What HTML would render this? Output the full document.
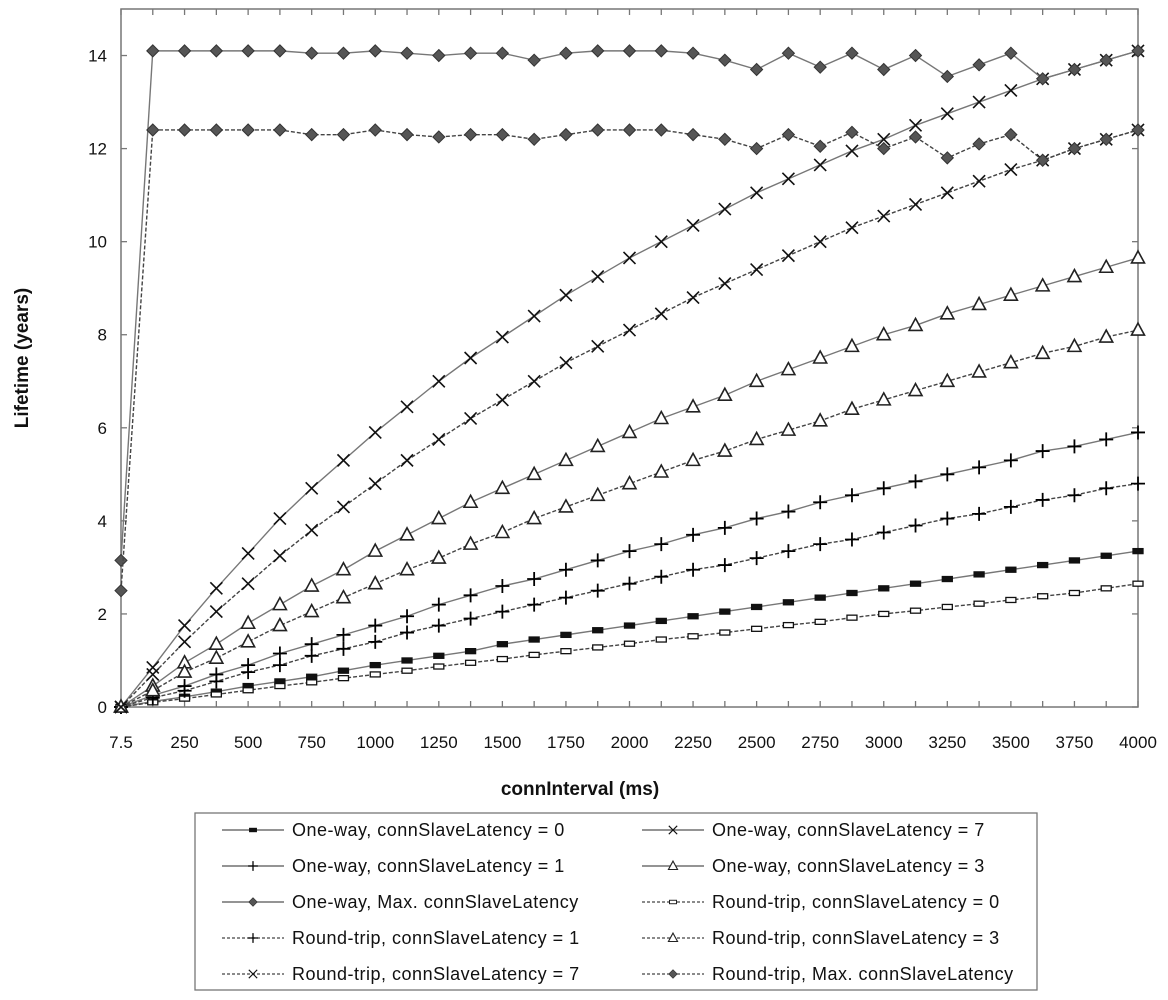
<!DOCTYPE html>
<html><head><meta charset="utf-8">
<style>
body{margin:0;background:#fff;}
svg{display:block;font-family:"Liberation Sans",sans-serif;}
</style></head>
<body>
<svg id="chart" width="1168" height="1000" viewBox="0 0 1168 1000" xmlns="http://www.w3.org/2000/svg">
<rect x="0" y="0" width="1168" height="1000" fill="#fff"/>
<g id="plot"></g>
<text x="0" y="0" transform="translate(28,358) rotate(-90)" text-anchor="middle" font-size="19" font-weight="bold" fill="#111">Lifetime (years)</text>
<text x="580" y="795" text-anchor="middle" font-size="19" font-weight="bold" fill="#111">connInterval (ms)</text>
<rect x="195" y="813" width="842" height="177" fill="#fff" stroke="#777" stroke-width="1.3"/>
<g id="legend"></g>
</svg>
<script>
const categories = ["7.5","125","250","375","500","625","750","875","1000","1125","1250","1375","1500","1625","1750","1875","2000","2125","2250","2375","2500","2625","2750","2875","3000","3125","3250","3375","3500","3625","3750","3875","4000"];
const xTickLabels = ["7.5","","250","","500","","750","","1000","","1250","","1500","","1750","","2000","","2250","","2500","","2750","","3000","","3250","","3500","","3750","","4000"];
const yTicks = [0,2,4,6,8,10,12,14];
const oneWay0 = [0,0.12,0.22,0.33,0.45,0.55,0.65,0.78,0.9,1.0,1.1,1.2,1.35,1.45,1.55,1.65,1.75,1.85,1.95,2.05,2.15,2.25,2.35,2.45,2.55,2.65,2.75,2.85,2.95,3.05,3.15,3.25,3.35];
const oneWay1 = [0,0.25,0.45,0.7,0.9,1.15,1.35,1.55,1.75,1.95,2.2,2.4,2.6,2.75,2.95,3.15,3.35,3.5,3.7,3.85,4.05,4.2,4.4,4.55,4.7,4.85,5.0,5.15,5.3,5.5,5.6,5.75,5.9];
const oneWay3 = [0,0.45,0.95,1.35,1.8,2.2,2.6,2.95,3.35,3.7,4.05,4.4,4.7,5.0,5.3,5.6,5.9,6.2,6.45,6.7,7.0,7.25,7.5,7.75,8.0,8.2,8.45,8.65,8.85,9.05,9.25,9.45,9.65];
const oneWay7 = [0,0.85,1.75,2.55,3.3,4.05,4.7,5.3,5.9,6.45,7.0,7.5,7.95,8.4,8.85,9.25,9.65,10.0,10.35,10.7,11.05,11.35,11.65,11.95,12.2,12.5,12.75,13.0,13.25,13.5,13.7,13.9,14.1];
const oneWayMax = [3.15,14.1,14.1,14.1,14.1,14.1,14.05,14.05,14.1,14.05,14.0,14.05,14.05,13.9,14.05,14.1,14.1,14.1,14.05,13.9,13.7,14.05,13.75,14.05,13.7,14.0,13.55,13.8,14.05,13.5,13.7,13.9,14.1];
const roundTrip0 = [0,0.1,0.18,0.27,0.36,0.45,0.53,0.62,0.7,0.78,0.87,0.95,1.03,1.12,1.2,1.28,1.36,1.45,1.52,1.6,1.68,1.76,1.83,1.92,2.0,2.07,2.15,2.22,2.3,2.38,2.45,2.55,2.65];
const roundTrip1 = [0,0.2,0.35,0.55,0.75,0.9,1.1,1.25,1.4,1.6,1.75,1.9,2.05,2.2,2.35,2.5,2.65,2.8,2.95,3.05,3.2,3.35,3.5,3.6,3.75,3.9,4.05,4.15,4.3,4.45,4.55,4.7,4.8];
const roundTrip3 = [0,0.35,0.75,1.05,1.4,1.75,2.05,2.35,2.65,2.95,3.2,3.5,3.75,4.05,4.3,4.55,4.8,5.05,5.3,5.5,5.75,5.95,6.15,6.4,6.6,6.8,7.0,7.2,7.4,7.6,7.75,7.95,8.1];
const roundTrip7 = [0,0.7,1.4,2.05,2.65,3.25,3.8,4.3,4.8,5.3,5.75,6.2,6.6,7.0,7.4,7.75,8.1,8.45,8.8,9.1,9.4,9.7,10.0,10.3,10.55,10.8,11.05,11.3,11.55,11.75,12.0,12.2,12.4];
const roundTripMax = [2.5,12.4,12.4,12.4,12.4,12.4,12.3,12.3,12.4,12.3,12.25,12.3,12.3,12.2,12.3,12.4,12.4,12.4,12.3,12.2,12.0,12.3,12.05,12.35,12.0,12.25,11.8,12.1,12.3,11.75,12.0,12.2,12.4];

const NS="http://www.w3.org/2000/svg";
const L=121,R=1138,T=9,B=707,YMAX=15;
function xs(i){return L+i*(R-L)/(categories.length-1);}
function ys(v){return B-v/YMAX*(B-T);}
function mk(tag,attrs,parent){const e=document.createElementNS(NS,tag);for(const k in attrs)e.setAttribute(k,attrs[k]);parent.appendChild(e);return e;}
const plot=document.getElementById('plot');
const legend=document.getElementById('legend');

const frame=mk('rect',{x:L,y:T,width:R-L,height:B-T,fill:'none',stroke:'#777','stroke-width':1.5},plot);


yTicks.forEach(v=>{
  const t=mk('line',{x1:L,x2:L+6,y1:ys(v),y2:ys(v),stroke:'#777','stroke-width':1.3},plot);
  
  
  const t2=mk('line',{x1:R-6,x2:R,y1:ys(v),y2:ys(v),stroke:'#777','stroke-width':1.3},plot);
  
  
  const lb=mk('text',{x:L-14,y:ys(v)+6,'text-anchor':'end','font-size':17,fill:'#111'},plot);
  lb.textContent=v;
  
  
});
categories.forEach((c,i)=>{
  const t=mk('line',{x1:xs(i),x2:xs(i),y1:B,y2:B-6,stroke:'#777','stroke-width':1.3},plot);
  
  
  const t2=mk('line',{x1:xs(i),x2:xs(i),y1:T,y2:T+6,stroke:'#777','stroke-width':1.3},plot);
  
  
  if(xTickLabels[i]){
    const lb=mk('text',{x:xs(i),y:748,'text-anchor':'middle','font-size':17,fill:'#111'},plot);
    lb.textContent=xTickLabels[i];
    
    
  }
});

function marker(type,x,y,parent,solid){
  const g=mk('g',{},parent);
  if(type==='rect'){
    mk('rect',{x:x-5,y:y-2.5,width:10,height:5,fill:solid?'#111':'#fff',stroke:'#111','stroke-width':1.3},g);
  }else if(type==='plus'){
    mk('path',{d:`M${x-7} ${y}H${x+7}M${x} ${y-7}V${y+7}`,stroke:'#000','stroke-width':1.8,fill:'none'},g);
  }else if(type==='cross'){
    mk('path',{d:`M${x-6} ${y-6}L${x+6} ${y+6}M${x-6} ${y+6}L${x+6} ${y-6}`,stroke:'#111','stroke-width':1.6,fill:'none'},g);
  }else if(type==='tri'){
    mk('path',{d:`M${x} ${y-7}L${x+6.5} ${y+5}L${x-6.5} ${y+5}Z`,stroke:'#222','stroke-width':1.6,fill:'#fff'},g);
  }else if(type==='diamond'){
    mk('path',{d:`M${x} ${y-6}L${x+6} ${y}L${x} ${y+6}L${x-6} ${y}Z`,stroke:'#333','stroke-width':1,fill:'#555'},g);
  }
  return g;
}
const series=[
 {name:'One-way, connSlaveLatency = 0',data:oneWay0,m:'rect',dash:false,solid:true,key:'one-way-lat0'},
 {name:'One-way, connSlaveLatency = 7',data:oneWay7,m:'cross',dash:false,key:'one-way-lat7'},
 {name:'One-way, connSlaveLatency = 1',data:oneWay1,m:'plus',dash:false,key:'one-way-lat1'},
 {name:'One-way, connSlaveLatency = 3',data:oneWay3,m:'tri',dash:false,key:'one-way-lat3'},
 {name:'One-way, Max. connSlaveLatency',data:oneWayMax,m:'diamond',dash:false,key:'one-way-max'},
 {name:'Round-trip, connSlaveLatency = 0',data:roundTrip0,m:'rect',dash:true,solid:false,key:'round-trip-lat0'},
 {name:'Round-trip, connSlaveLatency = 1',data:roundTrip1,m:'plus',dash:true,key:'round-trip-lat1'},
 {name:'Round-trip, connSlaveLatency = 3',data:roundTrip3,m:'tri',dash:true,key:'round-trip-lat3'},
 {name:'Round-trip, connSlaveLatency = 7',data:roundTrip7,m:'cross',dash:true,key:'round-trip-lat7'},
 {name:'Round-trip, Max. connSlaveLatency',data:roundTripMax,m:'diamond',dash:true,key:'round-trip-max'}
];
series.forEach(s=>{
  const g=mk('g',{},plot);
  
  
  const pts=s.data.map((v,i)=>xs(i)+','+ys(v)).join(' ');
  const pl=mk('polyline',{points:pts,fill:'none',stroke:s.dash?'#444':'#777','stroke-width':1.4,'stroke-dasharray':s.dash?'4 2':'none'},g);
  
  
  s.data.forEach((v,i)=>{
    const m=marker(s.m,xs(i),ys(v),g,s.solid);
    
    
  });
  const idx=series.indexOf(s);
  const col=idx%2, row=Math.floor(idx/2);
  const lx=col?642:222, ly=830+row*36;
  const lg=mk('g',{},legend);
  
  
  mk('line',{x1:lx,x2:lx+62,y1:ly,y2:ly,stroke:s.dash?'#444':'#555','stroke-width':1.2,'stroke-dasharray':s.dash?'3 2':'none'},lg);
  const lm=marker(s.m,lx+31,ly,lg,s.solid);
  lm.setAttribute('transform',`translate(${lx+31},${ly}) scale(0.7) translate(${-(lx+31)},${-ly})`);
  const t=mk('text',{x:lx+70,y:ly+6,'font-size':18,'letter-spacing':0.5,fill:'#111'},lg);
  t.textContent=s.name;
});
</script>
</body></html>
